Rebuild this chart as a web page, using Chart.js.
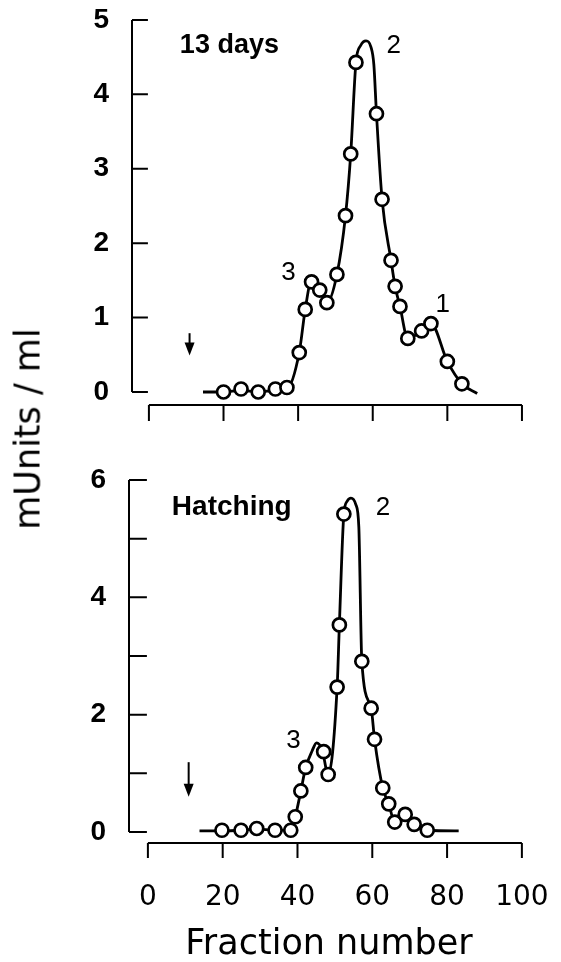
<!DOCTYPE html>
<html>
<head>
<meta charset="utf-8">
<script src="https://cdn.jsdelivr.net/npm/chart.js@4/dist/chart.umd.min.js"></script>
<style>
  body { margin: 0; background: #fff; }
  #wrap { position: relative; width: 561px; height: 962px; overflow: hidden; }
  canvas { position: absolute; left: 0; }
  .title { position: absolute; font-family: "DejaVu Sans", sans-serif; color: #000; white-space: nowrap; line-height: 1; }
</style>
</head>
<body>
<div id="wrap">
  <canvas id="top" width="561" height="440" style="top:0"></canvas>
  <canvas id="bottom" width="561" height="522" style="top:440px"></canvas>
  <div class="title" id="ytitle" style="font-size:35px; left:28px; top:429px; transform: translate(-50%,-50%) rotate(-90deg);">mUnits / ml</div>
  <div class="title" id="xtitle" style="font-size:35px; left:329px; top:942px; transform: translate(-50%,-50%);">Fraction number</div>
</div>
<script>
// 13 days - measured fractions (circles)
const topPointX = [20.0, 24.7, 29.3, 33.9, 37.0, 40.3, 41.9, 43.6, 45.8, 47.7, 50.4, 52.7, 54.1, 55.5,
                   61.0, 62.5, 64.9, 66.0, 67.3, 69.4, 73.1, 75.6, 80.0, 83.9];
const topPointY = [0.0, 0.04, 0.0, 0.04, 0.06, 0.53, 1.11, 1.48, 1.37, 1.20, 1.58, 2.37, 3.20, 4.43,
                   3.74, 2.59, 1.77, 1.42, 1.15, 0.72, 0.82, 0.92, 0.41, 0.11];
// hand drawn curve through them
const topCurveX = [14.5, 20.0, 24.7, 29.3, 33.9, 37.0, 40.3, 41.9, 43.6, 45.8, 47.7, 50.4, 52.7, 54.1, 55.5,
                   56.8, 58.2, 59.5, 60.3, 61.0, 62.5, 64.9, 66.0, 67.3, 69.4, 73.1, 75.6, 80.0, 83.9, 88.0];
const topCurveY = [0.0, 0.0, 0.02, 0.0, 0.02, 0.04, 0.53, 1.11, 1.50, 1.37, 1.20, 1.58, 2.37, 3.20, 4.43,
                   4.66, 4.72, 4.64, 4.40, 3.74, 2.59, 1.77, 1.42, 1.15, 0.72, 0.82, 0.92, 0.41, 0.11, -0.02];

// Hatching
const botPointX = [19.8, 24.9, 29.1, 34.0, 38.2, 39.4, 40.9, 42.2, 47.0, 48.2, 50.6, 51.2, 52.4,
                   57.2, 59.7, 60.6, 62.8, 64.4, 66.0, 68.8, 71.2, 74.7];
const botPointY = [0.03, 0.03, 0.06, 0.03, 0.03, 0.26, 0.70, 1.10, 1.37, 0.98, 2.47, 3.53, 5.42,
                   2.91, 2.11, 1.58, 0.75, 0.48, 0.17, 0.30, 0.13, 0.03];
const botCurveX = [13.8, 19.8, 24.9, 29.1, 34.0, 38.2, 39.4, 40.9, 42.2, 43.9, 45.1, 46.6, 48.2, 50.6, 51.2, 52.4,
                   53.3, 54.3, 55.6, 56.4, 57.2, 59.7, 60.6, 62.8, 64.4, 66.0, 68.8, 71.2, 74.7, 83.1];
const botCurveY = [0.02, 0.02, 0.03, 0.05, 0.03, 0.04, 0.26, 0.70, 1.10, 1.38, 1.52, 1.40, 0.98, 2.47, 3.53, 5.42,
                   5.64, 5.69, 5.58, 5.20, 2.91, 2.11, 1.58, 0.75, 0.48, 0.17, 0.30, 0.13, 0.03, 0.02];

const xTicks = [0, 20, 40, 60, 80, 100];
const topYTicks = [0, 1, 2, 3, 4, 5];
const botYTicks = [0, 1, 2, 3, 4, 5, 6];
const botYLabels = ['0', '', '2', '', '4', '', '6'];

// arrow (start of elution) at fraction ~11
const arrowX = 10.9;
const topArrow = [0.79, 0.49];
const botArrow = [1.19, 0.60];

const topNotes = [
  { text: '13 days', x: 8.3, y: 4.56, font: 'bold 27px "Liberation Sans", Arial, sans-serif' },
  { text: '2', x: 63.7, y: 4.56, font: '26px "Liberation Sans", Arial, sans-serif' },
  { text: '3', x: 35.5, y: 1.5, font: '26px "Liberation Sans", Arial, sans-serif' },
  { text: '1', x: 76.8, y: 1.075, font: '26px "Liberation Sans", Arial, sans-serif' }
];
const botNotes = [
  { text: 'Hatching', x: 6.4, y: 5.40, font: 'bold 28px "Liberation Sans", Arial, sans-serif' },
  { text: '2', x: 60.9, y: 5.40, font: '26px "Liberation Sans", Arial, sans-serif' },
  { text: '3', x: 37.0, y: 1.43, font: '26px "Liberation Sans", Arial, sans-serif' }
];

const xy = (xs, ys) => xs.map((x, i) => ({ x: x, y: ys[i] }));

// no automatic label padding, the plot area is fixed by hand
const noPad = s => { s.paddingLeft = 0; s.paddingRight = 0; s.paddingTop = 0; s.paddingBottom = 0; };

// draws the offset axes, tick marks, arrow and panel labels
const decor = {
  id: 'decor',
  afterDraw(chart, args, o) {
    const ctx = chart.ctx, xs = chart.scales.x, ys = chart.scales.y, ca = chart.chartArea;
    ctx.save();
    ctx.strokeStyle = '#000';
    ctx.fillStyle = '#000';
    ctx.lineWidth = 2;
    ctx.lineCap = 'butt';
    // y axis
    const ax = ca.left;
    ctx.beginPath();
    ctx.moveTo(ax, ys.getPixelForValue(o.yTicks[o.yTicks.length - 1]));
    ctx.lineTo(ax, ys.getPixelForValue(0));
    o.yTicks.forEach(v => {
      const py = ys.getPixelForValue(v);
      ctx.moveTo(ax, py);
      ctx.lineTo(xs.getPixelForValue(0) - 1, py);
    });
    // x axis
    const by = ca.bottom;
    ctx.moveTo(xs.getPixelForValue(0), by);
    ctx.lineTo(xs.getPixelForValue(100), by);
    xTicks.forEach(v => {
      const px = xs.getPixelForValue(v);
      ctx.moveTo(px, by);
      ctx.lineTo(px, by + o.tickLen);
    });
    ctx.stroke();
    // arrow
    const arx = xs.getPixelForValue(arrowX);
    const a0 = ys.getPixelForValue(o.arrow[0]), a1 = ys.getPixelForValue(o.arrow[1]);
    ctx.beginPath();
    ctx.moveTo(arx, a0);
    ctx.lineTo(arx, a1 - 10);
    ctx.stroke();
    ctx.beginPath();
    ctx.moveTo(arx - 5, a1 - 13);
    ctx.lineTo(arx + 5, a1 - 13);
    ctx.lineTo(arx, a1);
    ctx.closePath();
    ctx.fill();
    // labels
    ctx.textAlign = 'left';
    ctx.textBaseline = 'alphabetic';
    o.notes.forEach(n => {
      ctx.font = n.font;
      ctx.fillText(n.text, xs.getPixelForValue(n.x), ys.getPixelForValue(n.y));
    });
    ctx.restore();
  }
};

function makeChart(id, cfg) {
  return new Chart(document.getElementById(id), {
    type: 'scatter',
    data: {
      datasets: [
        {
          data: xy(cfg.px, cfg.py),
          showLine: false,
          pointRadius: 6.5,
          pointBackgroundColor: '#fff',
          pointBorderColor: '#000',
          pointBorderWidth: 2.7
        },
        {
          data: xy(cfg.cx, cfg.cy),
          showLine: true,
          pointRadius: 0,
          borderColor: '#000',
          borderWidth: 2.8,
          cubicInterpolationMode: 'monotone'
        }
      ]
    },
    options: {
      responsive: false,
      animation: false,
      devicePixelRatio: 1,
      layout: { padding: { left: 0, right: 7, top: cfg.padTop, bottom: 0 } },
      plugins: {
        legend: { display: false },
        tooltip: { enabled: false },
        decor: { yTicks: cfg.yTicks, arrow: cfg.arrow, notes: cfg.notes, tickLen: cfg.tickLen }
      },
      scales: {
        x: {
          type: 'linear',
          min: cfg.xMin,
          max: 108,
          grid: { display: false },
          border: { display: false },
          afterBuildTicks: s => { s.ticks = xTicks.map(v => ({ value: v })); },
          afterFit: s => { s.height = cfg.xHeight; noPad(s); },
          ticks: {
            display: cfg.xLabels,
            padding: 30,
            maxRotation: 0,
            color: '#000',
            font: { family: '"DejaVu Sans", sans-serif', size: 28 }
          }
        },
        y: {
          min: cfg.yMin,
          max: cfg.yMax,
          grid: { display: false },
          border: { display: false },
          afterBuildTicks: s => { s.ticks = cfg.yTicks.map(v => ({ value: v })); },
          afterFit: s => { s.width = cfg.yWidth; noPad(s); },
          ticks: {
            padding: 15,
            color: '#000',
            font: { family: '"Liberation Sans", Arial, sans-serif', size: 28, weight: 'bold' },
            callback: cfg.yLabel
          }
        }
      }
    },
    plugins: [decor]
  });
}

makeChart('top', {
  px: topPointX, py: topPointY, cx: topCurveX, cy: topCurveY,
  xMin: -4.533, yMin: -0.175, yMax: 5.134, padTop: 10,
  yTicks: topYTicks, yWidth: 132, xHeight: 35, xLabels: false, tickLen: 16,
  arrow: topArrow, notes: topNotes,
  yLabel: v => String(v)
});

makeChart('bottom', {
  px: botPointX, py: botPointY, cx: botCurveX, cy: botCurveY,
  xMin: -5.053, yMin: -0.1875, yMax: 6.341, padTop: 20,
  yTicks: botYTicks, yWidth: 129, xHeight: 119, xLabels: true, tickLen: 15,
  arrow: botArrow, notes: botNotes,
  yLabel: v => botYLabels[botYTicks.indexOf(v)]
});
</script>
</body>
</html>
